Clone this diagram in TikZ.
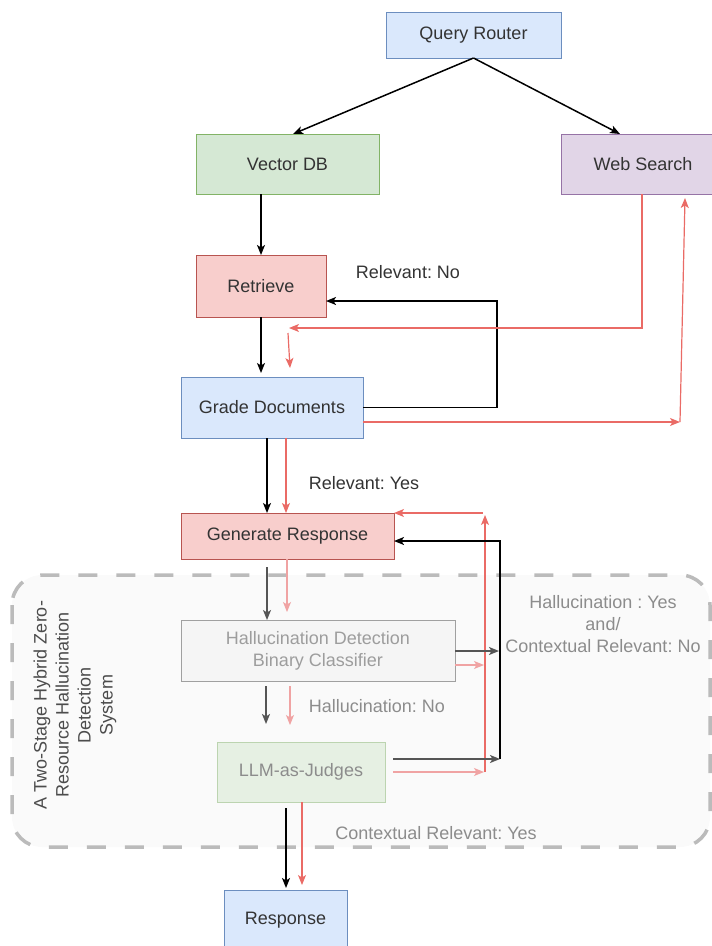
\documentclass[tikz,border=0pt]{standalone}
\usepackage{fontspec}
\setmainfont{Liberation Sans}
\frenchspacing
\definecolor{routerfill}{HTML}{DAE8FC}
\definecolor{routerdraw}{HTML}{6C8EBF}
\definecolor{dbfill}{HTML}{D5E8D4}
\definecolor{dbdraw}{HTML}{82B366}
\definecolor{webfill}{HTML}{E1D5E7}
\definecolor{webdraw}{HTML}{9673A6}
\definecolor{stepfill}{HTML}{F8CECC}
\definecolor{stepdraw}{HTML}{B85450}
\definecolor{clsfill}{HTML}{F5F5F5}
\definecolor{clsdraw}{HTML}{A0A0A0}
\definecolor{judgefill}{HTML}{E6F0E3}
\definecolor{judgedraw}{HTML}{BCD4B0}
\definecolor{linkred}{HTML}{EA6B66}
\definecolor{fadedred}{HTML}{F0A3A3}
\definecolor{fadedblack}{HTML}{555555}
\definecolor{labelgray}{HTML}{8C8C8C}
\definecolor{textdark}{HTML}{333333}
\definecolor{groupfill}{HTML}{FAFAFA}
\definecolor{groupdraw}{HTML}{BBBBBB}
\usetikzlibrary{arrows.meta,positioning,calc}

\begin{document}
\begin{tikzpicture}[x=1pt, y=-1pt,
    box/.style={rectangle, draw, line width=1pt, inner sep=0pt, outer sep=0pt,
                align=center, text=textdark, font=\fontsize{18}{22}\selectfont},
    label/.style={align=center, text=textdark, font=\fontsize{18}{22}\selectfont},
    arrow/.style={-{Stealth[length=10pt,width=8pt,inset=2.5pt]}, line width=1.5pt, black},
    redarrow/.style={-{Stealth[length=10pt,width=8pt,inset=2.5pt]}, line width=1.2pt, linkred},
    redline/.style={line width=1.2pt, linkred}]

\useasboundingbox (0,0) rectangle (712,946);
\clip (0,0) rectangle (712,946);

% Detection group
\draw[groupdraw, fill=groupfill, line width=3.5pt, rounded corners=30pt,
      dash pattern=on 19pt off 19pt] (12,575) rectangle (710,847);
\node[label, text=fadedblack!90!black, rotate=90] (grouptitle) at (75,705)
     {A Two-Stage Hybrid Zero-\\Resource Hallucination\\Detection\\System};

% Routing
\node[box, fill=routerfill, draw=routerdraw, minimum width=175pt, minimum height=46pt] (router) at (473.5,35) {Query Router};
\node[box, fill=dbfill, draw=dbdraw, minimum width=183pt, minimum height=60pt] (vecdb) at (287.5,164) {Vector DB};
\node[box, fill=webfill, draw=webdraw, minimum width=164pt, minimum height=60pt] (web) at (643,164) {Web Search};

% Retrieval
\node[box, fill=stepfill, draw=stepdraw, minimum width=130pt, minimum height=62pt] (retrieve) at (261,286) {Retrieve};
\node[box, fill=routerfill, draw=routerdraw, minimum width=182pt, minimum height=61pt] (grade) at (272,407.5) {Grade Documents};
\node[box, fill=stepfill, draw=stepdraw, minimum width=213pt, minimum height=46pt] (generate) at (287.5,536) {Generate Response};

% Checks
\node[box, fill=clsfill, draw=clsdraw, text=labelgray!85, minimum width=274pt, minimum height=61pt] (classifier) at (318,650.5) {Hallucination Detection\\Binary Classifier};
\node[box, fill=judgefill, draw=judgedraw, text=labelgray, minimum width=168pt, minimum height=60pt] (judges) at (301,772) {LLM-as-Judges};
\node[box, fill=routerfill, draw=routerdraw, minimum width=123pt, minimum height=60pt] (response) at (285.5,920) {Response};

% Labels
\node[label] (relno) at (408,272) {Relevant: No};
\node[label] (relyes) at (364,483) {Relevant: Yes};
\node[label, text=labelgray] (hallno) at (377,706) {Hallucination: No};
\node[label, text=labelgray] (hallyes) at (603,624) {Hallucination : Yes\\and/\\Contextual Relevant: No};
\node[label, text=labelgray] (ctxyes) at (436,833) {Contextual Relevant: Yes};

% Free ends
\coordinate (webret) at (289,328);
\coordinate (webdown) at (288,333);
\coordinate (webup) at (680,422);
\coordinate (genred) at (483,513);
\coordinate (loopred) at (485,772);
\coordinate (loopblack) at (500,759);

% Arrows
\draw[arrow] (router.south) -- ([xshift=5.5pt]vecdb.north);
\draw[arrow] (router.south) -- ([xshift=-23pt]web.north);
\draw[arrow] (vecdb.south -| retrieve.north) -- (retrieve.north);
\draw[arrow, shorten >=4pt] (retrieve.south) -- (retrieve.south |- grade.north);
\draw[arrow] (grade.east) -- ++(134,0) |- ([yshift=-15pt]retrieve.east);
\draw[redarrow] ([xshift=-1pt]web.south) |- (webret);
\draw[redarrow] (webdown) -- ([xshift=18pt,yshift=9pt]grade.north);
\draw[redarrow] ([yshift=-14.5pt]grade.east) -- (webup);
\draw[redarrow] (webup) -- ([xshift=42pt,yshift=-4pt]web.south);
\draw[arrow] ([xshift=-5pt]grade.south) -- ([xshift=-20.5pt]generate.north);
\draw[redarrow] ([xshift=14pt]grade.south) -- ([xshift=-1.5pt]generate.north);

% Feedback into the generator
\draw[redarrow] (genred) -- (generate.north east);
\draw[redarrow] (loopred) -- ([xshift=197.5pt,yshift=-2pt]generate.north);
\draw[arrow] (loopblack) |- ([yshift=-5pt]generate.east);

% Inside the detection group
\draw[arrow, fadedblack] ([xshift=-20.5pt,yshift=-8pt]generate.south) -- ([xshift=-51pt]classifier.north);
\draw[redarrow, fadedred] ([xshift=-0.5pt]generate.south) -- ([xshift=-31pt,yshift=8pt]classifier.north);
\draw[arrow, fadedblack] ([xshift=-52pt,yshift=-5pt]classifier.south) -- ([xshift=-35pt,yshift=18pt]judges.north);
\draw[redarrow, fadedred] ([xshift=-28pt,yshift=-5pt]classifier.south) -- ([xshift=-11pt,yshift=17pt]judges.north);
\draw[arrow, fadedblack] ([yshift=-0.5pt]classifier.east) -- ++(44,0);
\draw[redarrow, fadedred] ([yshift=-14.5pt]classifier.east) -- ++(29,0);
\draw[arrow, fadedblack] ([xshift=8pt,yshift=13pt]judges.east) -- (loopblack);
\draw[redarrow, fadedred] ([xshift=8pt]judges.east) -- ++(91,0);
\draw[arrow] ([xshift=-15pt,yshift=-6pt]judges.south) -- ([xshift=0.5pt,yshift=2pt]response.north);
\draw[redarrow] ([xshift=1pt]judges.south) -- ([xshift=16.5pt,yshift=5pt]response.north);
\end{tikzpicture}
\end{document}
